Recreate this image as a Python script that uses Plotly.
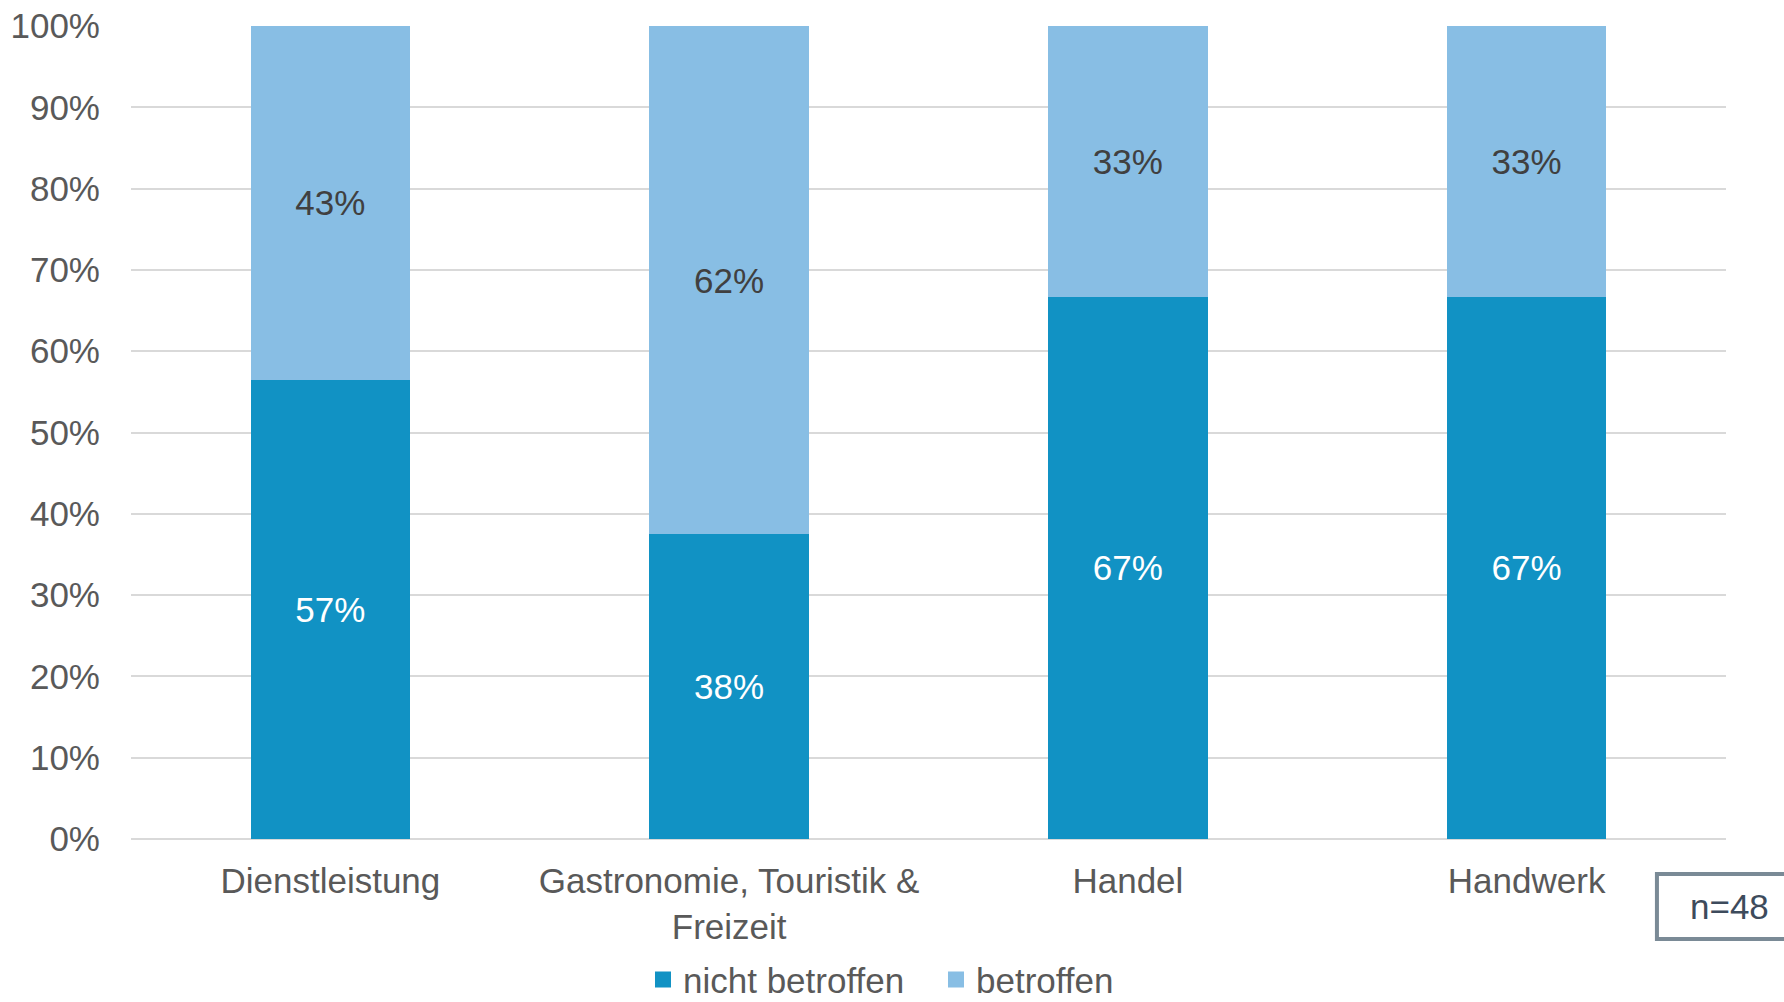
import plotly.graph_objects as go

categories = ["Dienstleistung", "Gastronomie, Touristik &<br>Freizeit", "Handel", "Handwerk"]
nicht_betroffen = [56.5, 37.5, 66.7, 66.7]
betroffen = [43.5, 62.5, 33.3, 33.3]
nicht_labels = ["57%", "38%", "67%", "67%"]
betroffen_labels = ["43%", "62%", "33%", "33%"]
y_ticks = [0, 10, 20, 30, 40, 50, 60, 70, 80, 90, 100]
y_ticklabels = [f"{v}%" for v in y_ticks]
n_text = "n=48"

FONT = "Liberation Sans, Arial, sans-serif"
FS = 35
C_DARK = "#1192C4"
C_LIGHT = "#88BEE4"

fig = go.Figure()
fig.add_trace(go.Bar(
    x=categories, y=nicht_betroffen, name="nicht betroffen", showlegend=False,
    marker=dict(color=C_DARK, line=dict(width=0)),
    text=nicht_labels, textposition="inside", insidetextanchor="middle",
    textfont=dict(color="white", size=FS, family=FONT), textangle=0,
))
fig.add_trace(go.Bar(
    x=categories, y=betroffen, name="betroffen", showlegend=False,
    marker=dict(color=C_LIGHT, line=dict(width=0)),
    text=betroffen_labels, textposition="inside", insidetextanchor="middle",
    textfont=dict(color="#404040", size=FS, family=FONT), textangle=0,
))
# legend entries with larger square markers
for nm, col in [("nicht betroffen", C_DARK), ("betroffen", C_LIGHT)]:
    fig.add_trace(go.Scatter(x=[None], y=[None], mode="markers", name=nm,
                             marker=dict(symbol="square", size=17, color=col)))

fig.update_layout(
    barmode="stack", bargap=0.6,
    width=1784, height=1002,
    margin=dict(l=131, r=58, t=26, b=163, autoexpand=False),
    paper_bgcolor="white", plot_bgcolor="white",
    font=dict(family=FONT, size=FS, color="#595959"),
    legend=dict(orientation="h", x=0.321, xanchor="left", y=-0.173, yanchor="middle",
                font=dict(size=FS, color="#595959", family=FONT),
                itemwidth=30, traceorder="normal", tracegroupgap=0,
                entrywidth=248, bgcolor="rgba(0,0,0,0)"),
    showlegend=True,
)
fig.update_xaxes(showgrid=False, showline=False, ticks="", ticklabelstandoff=18,
                 tickfont=dict(size=FS, color="#595959"), automargin=False)
fig.update_yaxes(range=[0, 100], tickvals=y_ticks, ticktext=y_ticklabels,
                 showgrid=True, gridcolor="#d9d9d9", gridwidth=2,
                 zeroline=True, zerolinecolor="#d9d9d9", zerolinewidth=2,
                 showline=False, ticks="", ticklabelstandoff=30, automargin=False,
                 tickfont=dict(size=FS, color="#595959"))

fig.add_shape(type="rect", xref="paper", yref="paper",
              x0=0.9567, x1=1.05, y0=-0.123, y1=-0.043,
              line=dict(color="#7a8a96", width=4), fillcolor="white")
fig.add_annotation(xref="paper", yref="paper", x=1.002, y=-0.083,
                   text=n_text, showarrow=False, xanchor="center", yanchor="middle",
                   font=dict(size=FS, color="#3d4b5c", family=FONT))

fig.write_html("out.html", config={"displayModeBar": False},
               post_script="document.body.style.margin='0px';")
